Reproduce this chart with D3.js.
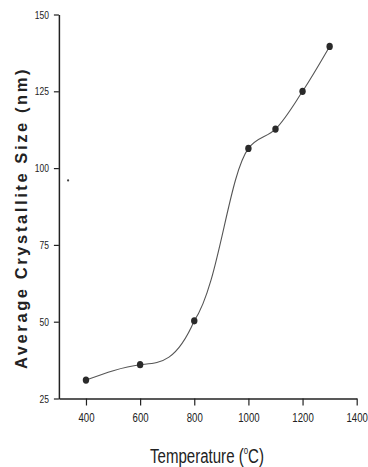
<!DOCTYPE html>
<html><head><meta charset="utf-8">
<script src="https://cdn.jsdelivr.net/npm/d3@7"></script>
<style>body{margin:0;background:#fff}svg{display:block}</style>
</head><body><svg id="c" width="368" height="467"></svg>
<script>
const temperatures = [400, 600, 800, 1000, 1100, 1200, 1300];
const crystalliteSize = [31, 36, 50.3, 106.4, 112.7, 125, 139.6];
const xTicks = [400, 600, 800, 1000, 1200, 1400];
const yTicks = [25, 50, 75, 100, 125, 150];
const strayMarkX = [334];
const strayMarkY = [96];

const svg = d3.select('#c');
const x = d3.scaleLinear().domain([300, 1400]).range([58.9, 356.7]);
const y = d3.scaleLinear().domain([25, 150]).range([398.5, 14.5]);
const ink = '#222';

// x axis
const gx = svg.append('g').attr('transform', `translate(0,${y(25)})`)
  .call(d3.axisBottom(x).tickValues(xTicks).tickSize(7).tickSizeOuter(0).tickFormat(d3.format('d')));
gx.select('.domain').attr('stroke', ink).attr('stroke-width', 1.5);
gx.selectAll('.tick line').attr('stroke', ink).attr('stroke-width', 1.2);
gx.selectAll('.tick text').attr('fill', ink).attr('font-family', 'Liberation Sans, Arial, sans-serif')
  .attr('font-size', 13).attr('y', 0).attr('dy', 0)
  .attr('transform', 'translate(0,23) scale(0.74,1)');

// y axis
const gy = svg.append('g').attr('transform', `translate(${x(300)},0)`)
  .call(d3.axisLeft(y).tickValues(yTicks).tickSize(5).tickSizeOuter(0));
gy.select('.domain').attr('stroke', ink).attr('stroke-width', 1.5);
gy.selectAll('.tick line').attr('stroke', ink).attr('stroke-width', 1.2);
gy.selectAll('.tick text').attr('fill', ink).attr('font-family', 'Liberation Sans, Arial, sans-serif')
  .attr('font-size', 10).attr('x', 0).attr('dy', '0.35em')
  .attr('transform', 'translate(-10,0) scale(0.85,1)');

// curve: natural spline up to 800 °C, Catmull-Rom spline beyond
const pts = temperatures.map((t, i) => [t, crystalliteSize[i]]);
const defs = svg.append('defs');
defs.append('clipPath').attr('id', 'clipLow').append('rect')
  .attr('x', 0).attr('y', 0).attr('width', x(800)).attr('height', 467);
defs.append('clipPath').attr('id', 'clipHigh').append('rect')
  .attr('x', x(800)).attr('y', 0).attr('width', 368 - x(800)).attr('height', 467);
const lineNat = d3.line().x(d => x(d[0])).y(d => y(d[1])).curve(d3.curveNatural);
const lineCR = d3.line().x(d => x(d[0])).y(d => y(d[1])).curve(d3.curveCatmullRom.alpha(0.5));
svg.append('path').datum(pts).attr('d', lineNat).attr('fill', 'none')
  .attr('clip-path', 'url(#clipLow)')
  .attr('stroke', '#555').attr('stroke-width', 1.1);
svg.append('path').datum(pts).attr('d', lineCR).attr('fill', 'none')
  .attr('clip-path', 'url(#clipHigh)')
  .attr('stroke', '#555').attr('stroke-width', 1.1);

svg.append('g').selectAll('ellipse').data(pts).join('ellipse')
  .attr('cx', d => x(d[0])).attr('cy', d => y(d[1]))
  .attr('rx', 3.2).attr('ry', 3.6).attr('fill', '#2a2a2a');

// stray speck from the scan
svg.append('g').selectAll('circle').data(strayMarkX).join('circle')
  .attr('cx', d => x(d)).attr('cy', (d, i) => y(strayMarkY[i]))
  .attr('r', 1.1).attr('fill', '#444');

// y title
svg.append('text')
  .attr('transform', 'translate(26.5,218) rotate(-90)')
  .attr('text-anchor', 'middle')
  .attr('font-family', 'Liberation Sans, Arial, sans-serif')
  .attr('font-weight', 'bold').attr('font-size', 16.5)
  .attr('letter-spacing', '2.6px').attr('fill', ink)
  .text('Average Crystallite Size (nm)');

// x title
const xt = svg.append('text')
  .attr('text-anchor', 'middle')
  .attr('font-family', 'Liberation Sans, Arial, sans-serif')
  .attr('font-size', 21).attr('fill', ink);
xt.append('tspan').text('Temperature (');
xt.append('tspan').attr('font-size', 11).attr('dy', -9).text('o');
xt.append('tspan').attr('dy', 9).text('C)');
const w = xt.node().getBBox().width;
const sx = 114 / w;
xt.attr('transform', `translate(207,463) scale(${sx},1)`);
</script>
</body></html>
